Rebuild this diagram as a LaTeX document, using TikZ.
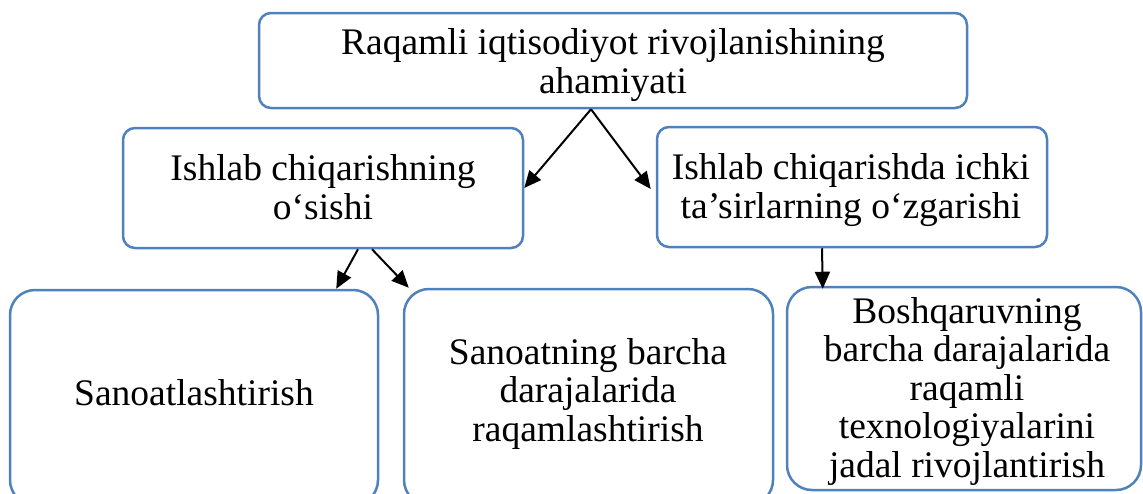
\documentclass[tikz,border=0pt]{standalone}
\usepackage{fontspec}
\setmainfont{Liberation Serif}
\usetikzlibrary{arrows.meta}
\definecolor{boxblue}{RGB}{79,129,189}
\begin{document}
\begin{tikzpicture}[x=1pt,y=-1pt,
  box/.style={draw=boxblue, line width=2.5pt, rounded corners=12pt, inner sep=0pt},
  bigbox/.style={box, rounded corners=25pt},
  txt/.style={align=center, font=\fontsize{37.5}{38.5}\selectfont, inner sep=0pt, anchor=base},
  arr/.style={-{Triangle[length=17pt,width=15pt]}, line width=2pt}]
\useasboundingbox (0,0) rectangle (1143,493);
\clip (0,0) rectangle (1143,493);

% boxes
\node[box, minimum width=708pt, minimum height=95pt] (b1) at (613,60.5) {};
\node[box, minimum width=400pt, minimum height=120pt] (b2) at (323,188) {};
\node[box, minimum width=390pt, minimum height=120pt] (b3) at (852,187) {};
\node[bigbox, minimum width=368pt, minimum height=215pt] (b4) at (194,397.5) {};
\node[bigbox, minimum width=369pt, minimum height=216pt] (b5) at (588.5,397) {};
\node[bigbox, minimum width=354pt, minimum height=203pt] (b6) at (964,388.5) {};

% texts (anchored at the baseline of their last line)
\node[txt] (t1) at (613,93) {Raqamli iqtisodiyot rivojlanishining\\ahamiyati};
\node[txt] (t2) at (323,219) {Ishlab chiqarishning\\o‘sishi};
\node[txt] (t3) at (851,218) {Ishlab chiqarishda ichki\\ta’sirlarning o‘zgarishi};
\node[txt] (t4) at (194,405) {Sanoatlashtirish};
\node[txt] (t5) at (588,441) {Sanoatning barcha\\darajalarida\\raqamlashtirish};
\node[txt] (t6) at (967,477) {Boshqaruvning\\barcha darajalarida\\raqamli\\texnologiyalarini\\jadal rivojlantirish};

% connectors
\draw[arr] ([xshift=-22pt]b1.south) -- (b2.east);
\draw[arr] ([xshift=-22pt]b1.south) -- ([xshift=-5pt,yshift=-2pt]b3.west);
\draw[arr] ([xshift=35pt]b2.south) -- ([xshift=-43pt]b4.north east);
\draw[arr] ([xshift=49pt]b2.south) -- ([xshift=6pt]b5.north west);
\draw[arr] ([xshift=-30pt]b3.south) -- ([xshift=37pt,yshift=-3pt]b6.north west);
\end{tikzpicture}
\end{document}
